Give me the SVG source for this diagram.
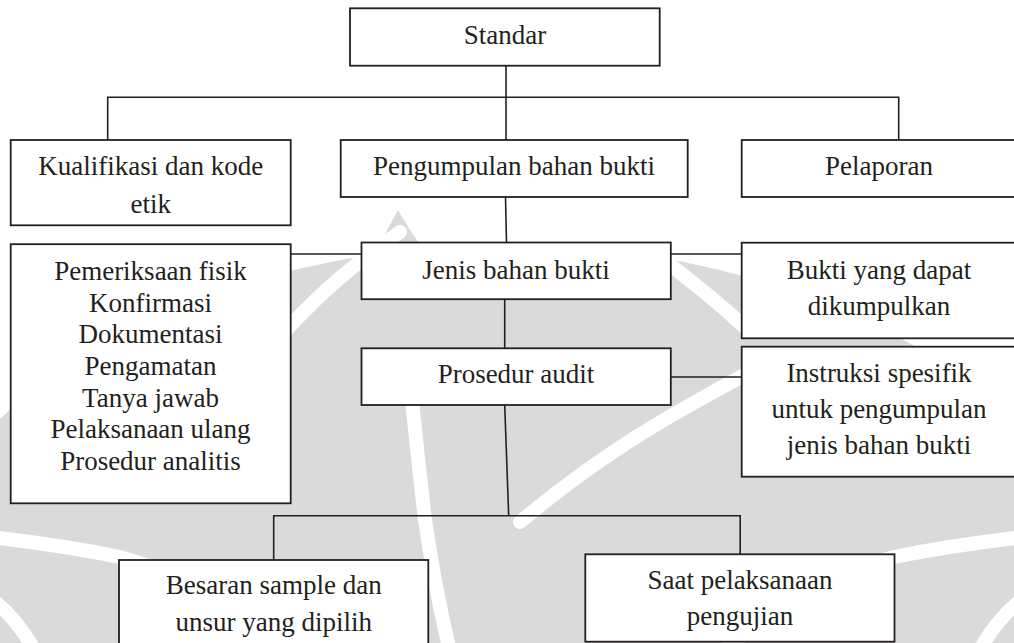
<svg xmlns="http://www.w3.org/2000/svg" width="1014" height="643" viewBox="0 0 1014 643">
  <style>
    .box { fill: #ffffff; stroke: #231f20; stroke-width: 1.8; }
    .lbl { font-family: "Liberation Serif", "Times New Roman", serif; font-size: 27px; fill: #231f20; text-anchor: middle; }
    .conn { fill: none; stroke: #231f20; stroke-width: 1.6; }
    .wm { fill: #dadada; stroke: none; }
    .gap { fill: none; stroke: #ffffff; stroke-width: 14; stroke-linecap: round; }
  </style>
  <rect x="0" y="0" width="1014" height="643" fill="#ffffff"/>
  <g id="watermark">
    <ellipse class="wm" cx="507" cy="655" rx="620" ry="410"/>
    <path class="wm" d="M376,250 Q390,225 398,210 Q408,228 424,250 Z"/>
    <path class="gap" d="M-10,537 Q60,545 120,557 Q220,585 300,660"/>
    <path class="gap" d="M-10,598 Q18,618 40,660"/>
    <path class="gap" d="M282,335 Q330,280 400,232"/>
    <path class="gap" d="M412,400 Q418,460 425,520 Q435,590 452,660"/>
    <path class="gap" d="M520,522 Q600,455 690,405 Q720,388 750,372"/>
    <path class="gap" d="M1024,537 Q954,545 894,557 Q794,585 714,660"/>
    <path class="gap" d="M1024,598 Q996,618 974,660"/>
    <path class="gap" d="M748,330 Q705,290 650,250"/>
  </g>
  <g id="connectors">
    <line class="conn" x1="506" y1="65.7" x2="506" y2="140"/>
    <polyline class="conn" points="107.7,140 107.7,97.3 898.7,97.3 898.7,140"/>
    <line class="conn" x1="505.5" y1="197" x2="506.5" y2="242.5"/>
    <line class="conn" x1="290.7" y1="254" x2="361.7" y2="254"/>
    <line class="conn" x1="671" y1="254" x2="741.7" y2="254"/>
    <line class="conn" x1="504.7" y1="299" x2="504.7" y2="348.3"/>
    <line class="conn" x1="671" y1="377" x2="741.7" y2="377"/>
    <line class="conn" x1="504.7" y1="405" x2="508.7" y2="515.7"/>
    <polyline class="conn" points="273.7,560 273.7,515.7 740.2,515.7 740.2,554.3"/>
  </g>
  <g id="node-standar">
    <rect class="box" x="350" y="8.3" width="309.7" height="57.4"/>
    <text class="lbl" x="505" y="44">Standar</text>
  </g>
  <g id="node-kualifikasi">
    <rect class="box" x="10.7" y="140" width="280" height="85.3"/>
    <text class="lbl" x="150.7" y="175">Kualifikasi dan kode</text>
    <text class="lbl" x="150.7" y="212.7">etik</text>
  </g>
  <g id="node-pengumpulan">
    <rect class="box" x="340.7" y="140" width="347" height="57"/>
    <text class="lbl" x="514" y="175">Pengumpulan bahan bukti</text>
  </g>
  <g id="node-pelaporan">
    <rect class="box" x="741.7" y="140" width="276" height="57"/>
    <text class="lbl" x="879" y="175">Pelaporan</text>
  </g>
  <g id="node-jenis">
    <rect class="box" x="361.5" y="242.5" width="309.3" height="56.7"/>
    <text class="lbl" x="516" y="278.5">Jenis bahan bukti</text>
  </g>
  <g id="node-pemeriksaan">
    <rect class="box" x="10.7" y="244.2" width="280" height="259.1"/>
    <text class="lbl" x="150.5" y="280">Pemeriksaan fisik</text>
    <text class="lbl" x="150.5" y="311.7">Konfirmasi</text>
    <text class="lbl" x="150.5" y="343.3">Dokumentasi</text>
    <text class="lbl" x="150.5" y="375">Pengamatan</text>
    <text class="lbl" x="150.5" y="406.7">Tanya jawab</text>
    <text class="lbl" x="150.5" y="438.3">Pelaksanaan ulang</text>
    <text class="lbl" x="150.5" y="470">Prosedur analitis</text>
  </g>
  <g id="node-bukti">
    <rect class="box" x="741.7" y="242.7" width="276" height="95.6"/>
    <text class="lbl" x="879" y="279.3">Bukti yang dapat</text>
    <text class="lbl" x="879" y="315">dikumpulkan</text>
  </g>
  <g id="node-prosedur">
    <rect class="box" x="361.5" y="348.3" width="309.3" height="56.7"/>
    <text class="lbl" x="516" y="383.3">Prosedur audit</text>
  </g>
  <g id="node-instruksi">
    <rect class="box" x="741.7" y="346.7" width="276" height="130"/>
    <text class="lbl" x="879" y="382">Instruksi spesifik</text>
    <text class="lbl" x="879" y="418.3">untuk pengumpulan</text>
    <text class="lbl" x="879" y="454">jenis bahan bukti</text>
  </g>
  <g id="node-besaran">
    <rect class="box" x="119" y="560" width="309.3" height="100"/>
    <text class="lbl" x="273.7" y="594.3">Besaran sample dan</text>
    <text class="lbl" x="273.7" y="630.7">unsur yang dipilih</text>
  </g>
  <g id="node-saat">
    <rect class="box" x="585.3" y="554.3" width="309.2" height="87.4"/>
    <text class="lbl" x="740" y="589.3">Saat pelaksanaan</text>
    <text class="lbl" x="740" y="625">pengujian</text>
  </g>
</svg>
